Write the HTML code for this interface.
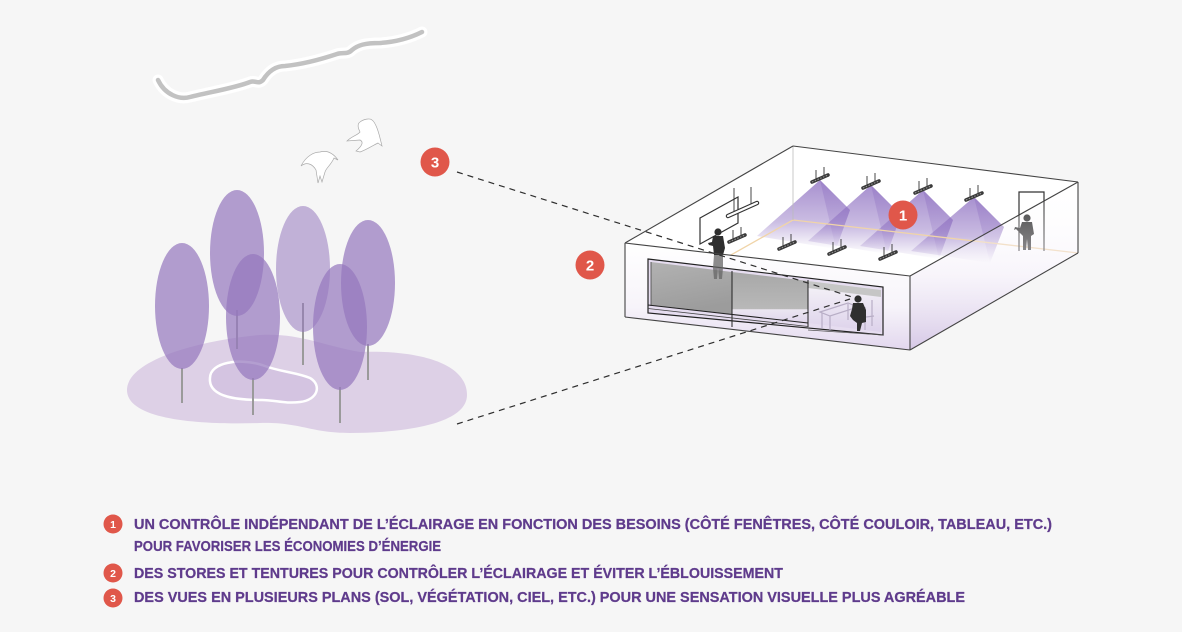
<!DOCTYPE html>
<html><head><meta charset="utf-8"><style>
html,body{margin:0;padding:0;background:#f6f6f6;}
svg{display:block;}
</style></head><body>
<svg width="1182" height="632" viewBox="0 0 1182 632" xmlns="http://www.w3.org/2000/svg">
<defs>
<linearGradient id="cone" x1="0" y1="0" x2="0" y2="1">
<stop offset="0" stop-color="#8a6bbf" stop-opacity="0.75"/>
<stop offset="0.6" stop-color="#8a6bbf" stop-opacity="0.45"/>
<stop offset="1" stop-color="#8a6bbf" stop-opacity="0"/>
</linearGradient>
<linearGradient id="wallf" x1="0" y1="0" x2="0" y2="1">
<stop offset="0" stop-color="#ffffff"/>
<stop offset="0.6" stop-color="#f7f4fa"/>
<stop offset="1" stop-color="#e2d7ee"/>
</linearGradient>
<linearGradient id="wallr" x1="0" y1="0" x2="0" y2="1">
<stop offset="0" stop-color="#ffffff" stop-opacity="0"/>
<stop offset="0.55" stop-color="#f3eef8" stop-opacity="0.6"/>
<stop offset="1" stop-color="#d6c8e6" stop-opacity="1"/>
</linearGradient>
<linearGradient id="gray1" x1="0" y1="0" x2="0.3" y2="1">
<stop offset="0" stop-color="#b2b2b2"/>
<stop offset="1" stop-color="#9c9c9c"/>
</linearGradient>
<linearGradient id="gray2" x1="0" y1="0" x2="0" y2="1">
<stop offset="0" stop-color="#a8a8a8"/>
<stop offset="0.72" stop-color="#b8b8b8"/>
<stop offset="0.74" stop-color="#ebe6f1"/>
<stop offset="1" stop-color="#e0d6ec"/>
</linearGradient>
<linearGradient id="pane3" x1="0" y1="0" x2="0" y2="1">
<stop offset="0" stop-color="#f6f4f8"/>
<stop offset="1" stop-color="#ddd2eb"/>
</linearGradient>
</defs>

<!-- cloud -->
<path d="M158,80 C165,95 180,100 190,97 C210,92 235,88 250,82 C256,80 258,85 263,80 C268,72 275,66 285,66 C305,64 325,58 337,54 C343,52 347,55 352,50 C358,45 365,43 380,43 C395,42 410,38 422,32" fill="none" stroke="#ffffff" stroke-width="11" stroke-linecap="round" stroke-linejoin="round"/>
<path d="M158,80 C165,95 180,100 190,97 C210,92 235,88 250,82 C256,80 258,85 263,80 C268,72 275,66 285,66 C305,64 325,58 337,54 C343,52 347,55 352,50 C358,45 365,43 380,43 C395,42 410,38 422,32" fill="none" stroke="#c2c2c2" stroke-width="4.5" stroke-linecap="round" stroke-linejoin="round"/>

<!-- birds -->
<path d="M301,166 C306,156 314,152 320,152 C327,150 333,153 338,160 L334,158 C331,165 326,168 325,172 L322,182 L320,176 L318,183 L316,170 C312,163 306,162 301,166 Z" fill="#ffffff" stroke="#aaaaaa" stroke-width="0.7"/>
<path d="M347,141 C352,136 358,135 360,132 C358,128 357,124 360,122 C364,119 370,118 372,120 C375,122 378,130 380,138 L382,146 L378,143 C372,146 366,150 360,152 L356,151 C362,146 364,142 360,140 Z" fill="#ffffff" stroke="#aaaaaa" stroke-width="0.7"/>

<!-- ground -->
<path d="M127,390 C127,360 200,340 260,335 C300,333 320,345 360,352 C410,350 467,360 467,395 C467,425 400,433 350,433 C310,433 300,422 260,423 C200,425 127,420 127,390 Z" fill="#ddd0e6"/>
<path d="M210,378 C210,362 240,358 262,365 C280,372 295,372 310,378 C322,385 318,400 300,402 C285,404 275,400 262,400 C240,400 208,398 210,378 Z" fill="#d4c4e1" stroke="#ffffff" stroke-width="2.5"/>

<!-- trunks -->
<g stroke="#9a9a9a" stroke-width="2">
<line x1="182" y1="368" x2="182" y2="403"/>
<line x1="237" y1="310" x2="237" y2="349"/>
<line x1="253" y1="378" x2="253" y2="415"/>
<line x1="303" y1="303" x2="303" y2="365"/>
<line x1="368" y1="344" x2="368" y2="380"/>
<line x1="340" y1="387" x2="340" y2="423"/>
</g>
<!-- trees -->
<g fill="#9678be">
<ellipse cx="182" cy="306" rx="27" ry="63" fill-opacity="0.72"/>
<ellipse cx="237" cy="253" rx="27" ry="63" fill-opacity="0.72"/>
<ellipse cx="303" cy="269" rx="27" ry="63" fill-opacity="0.55"/>
<ellipse cx="368" cy="283" rx="27" ry="63" fill-opacity="0.72"/>
<ellipse cx="253" cy="317" rx="27" ry="63" fill-opacity="0.72"/>
<ellipse cx="340" cy="327" rx="27" ry="63" fill-opacity="0.72"/>
</g>

<!-- building base silhouette -->
<polygon points="625,243 793,146 1078,182 1078,253 910,350 625,317" fill="#ffffff"/>

<!-- light cones -->
<g>
<polygon points="820,180 757,236 836,249 850,210" fill="url(#cone)"/>
<polygon points="820,180 836,249 850,210" fill="url(#cone)" opacity="0.5"/>
<polygon points="871,185 808,241 887,254 901,215" fill="url(#cone)"/>
<polygon points="871,185 887,254 901,215" fill="url(#cone)" opacity="0.5"/>
<polygon points="923,190 860,246 939,259 953,220" fill="url(#cone)"/>
<polygon points="923,190 939,259 953,220" fill="url(#cone)" opacity="0.5"/>
<polygon points="974,197 911,251 990,263 1004,227" fill="url(#cone)"/>
<polygon points="974,197 990,263 1004,227" fill="url(#cone)" opacity="0.5"/>
</g>

<!-- floor lines -->
<line x1="793" y1="220" x2="1078" y2="253" stroke="#f0d4a8" stroke-width="1.3"/>
<line x1="793" y1="220" x2="628" y2="313" stroke="#f0d4a8" stroke-width="1.3"/>
<line x1="793" y1="146" x2="793" y2="220" stroke="#bbbbbb" stroke-width="0.8"/>

<!-- door -->
<polyline points="1019,251 1019,192 1044,192 1044,251" fill="none" stroke="#333" stroke-width="1.2"/>

<!-- board -->
<polygon points="700,218 738,197 738,223 700,244" fill="#ffffff" stroke="#333" stroke-width="1.2"/>
<!-- board light -->
<line x1="734" y1="188" x2="734" y2="213" stroke="#333" stroke-width="0.9"/>
<line x1="751" y1="187" x2="751" y2="204" stroke="#333" stroke-width="0.9"/>
<line x1="728" y1="216" x2="757" y2="203" stroke="#333" stroke-width="4.5" stroke-linecap="round"/>
<line x1="728" y1="216" x2="757" y2="203" stroke="#ffffff" stroke-width="2.2" stroke-linecap="round"/>

<!-- fixtures -->
<g stroke="#333" stroke-width="0.9">
<line x1="816" y1="180" x2="816" y2="170"/><line x1="824" y1="177" x2="824" y2="167"/>
<line x1="867" y1="186" x2="867" y2="176"/><line x1="875" y1="183" x2="875" y2="173"/>
<line x1="919" y1="191" x2="919" y2="181"/><line x1="927" y1="188" x2="927" y2="178"/>
<line x1="970" y1="198" x2="970" y2="188"/><line x1="978" y1="195" x2="978" y2="185"/>
<line x1="733" y1="240" x2="733" y2="230"/><line x1="741" y1="237" x2="741" y2="227"/>
<line x1="783" y1="247" x2="783" y2="237"/><line x1="791" y1="244" x2="791" y2="234"/>
<line x1="833" y1="252" x2="833" y2="242"/><line x1="841" y1="249" x2="841" y2="239"/>
<line x1="884" y1="257" x2="884" y2="247"/><line x1="892" y1="254" x2="892" y2="244"/>
</g>
<g stroke="#3a3a3a" stroke-width="3.5" stroke-linecap="round">
<line x1="812" y1="182" x2="828" y2="175"/>
<line x1="863" y1="188" x2="879" y2="181"/>
<line x1="915" y1="193" x2="931" y2="186"/>
<line x1="966" y1="200" x2="982" y2="193"/>
<line x1="729" y1="242" x2="745" y2="235"/>
<line x1="779" y1="249" x2="795" y2="242"/>
<line x1="829" y1="254" x2="845" y2="247"/>
<line x1="880" y1="259" x2="896" y2="252"/>
</g>
<g stroke="#999" stroke-width="1" stroke-dasharray="1.5 1.5">
<line x1="812" y1="182" x2="828" y2="175"/>
<line x1="863" y1="188" x2="879" y2="181"/>
<line x1="915" y1="193" x2="931" y2="186"/>
<line x1="966" y1="200" x2="982" y2="193"/>
<line x1="729" y1="242" x2="745" y2="235"/>
<line x1="779" y1="249" x2="795" y2="242"/>
<line x1="829" y1="254" x2="845" y2="247"/>
<line x1="880" y1="259" x2="896" y2="252"/>
</g>

<!-- door person -->
<g fill="#2f2f2f">
<circle cx="1027" cy="218" r="3.6"/>
<path d="M1022,222 L1032,222 L1034,234 L1031,236 L1031,250 L1028,250 L1027,239 L1026,250 L1023,250 L1023,236 L1021,234 L1016,229 L1014,230 L1015,227 L1020,228 Z"/>
</g>

<!-- right face overlay -->
<polygon points="910,276 1078,182 1078,253 910,350" fill="url(#wallr)"/>

<!-- front wall -->
<polygon points="625,243 910,276 910,350 625,317" fill="url(#wallf)"/>

<!-- window -->
<polygon points="648,259 883,287 883,335 648,313" fill="#e6ddf0" stroke="#222" stroke-width="1.2"/>
<polygon points="651,262 732,272 732,314 651,305" fill="url(#gray1)"/>
<polygon points="732,272 808,281 808,323 732,314" fill="url(#gray2)"/>
<polygon points="808,281 881,290 881,332 808,323" fill="url(#pane3)"/>
<polygon points="808,281 881,290 881,297 808,288" fill="#c6c6c6"/>
<line x1="732" y1="271" x2="732" y2="327" stroke="#222" stroke-width="1"/>
<line x1="808" y1="280" x2="808" y2="327" stroke="#222" stroke-width="1"/>
<line x1="651" y1="262" x2="651" y2="306" stroke="#444" stroke-width="0.8"/>
<line x1="648" y1="305" x2="808" y2="323" stroke="#222" stroke-width="1"/>
<line x1="648" y1="308.5" x2="808" y2="326.5" stroke="#444" stroke-width="0.8"/>
<line x1="808" y1="330" x2="883" y2="335" stroke="#555" stroke-width="0.8"/>

<!-- table & chair (light) -->
<g fill="none" stroke="#b8aec6" stroke-width="1.2">
<polygon points="820,312 848,303 858,307 830,316"/>
<line x1="822" y1="313" x2="822" y2="328"/>
<line x1="830" y1="316" x2="830" y2="330"/>
<line x1="848" y1="304" x2="848" y2="320"/>
<line x1="865" y1="307" x2="865" y2="330"/>
<line x1="872" y1="300" x2="872" y2="326"/>
<line x1="858" y1="318" x2="874" y2="316"/>
</g>

<!-- teacher -->
<g fill="#2f2f2f">
<circle cx="718" cy="232" r="3.6"/>
<path d="M713,236 L723,236 L725,248 L723,255 L714,255 L713,246 L709,245 L708,243 L712,242 Z"/>
</g>
<path d="M714,255 L723,255 L723,268 L722,279 L719,279 L718,268 L717,279 L714,279 L713,268 Z" fill="#666" opacity="0.75"/>

<!-- seated person -->
<g fill="#2f2f2f">
<circle cx="858" cy="299" r="3.6"/>
<path d="M853,303 L863,303 L866,310 L866,322 L862,323 L860,331 L857,331 L857,323 L853,320 L850,316 L852,309 Z"/>
</g>

<!-- building edges -->
<g fill="none" stroke="#444" stroke-width="1.1">
<line x1="625" y1="243" x2="793" y2="146"/>
<line x1="793" y1="146" x2="1078" y2="182"/>
<line x1="1078" y1="182" x2="1078" y2="253"/>
<line x1="1078" y1="182" x2="910" y2="276"/>
<line x1="625" y1="243" x2="910" y2="276"/>
<line x1="910" y1="276" x2="910" y2="350"/>
<line x1="625" y1="243" x2="625" y2="317"/>
<line x1="625" y1="317" x2="910" y2="350"/>
<line x1="910" y1="350" x2="1078" y2="253"/>
</g>

<!-- dashed sight lines -->
<g stroke="#2e2e2e" stroke-width="1.2" stroke-dasharray="6 5" fill="none">
<line x1="457" y1="172" x2="852" y2="297"/>
<line x1="457" y1="424" x2="850" y2="299"/>
</g>

<!-- badges -->
<g font-family="Liberation Sans, sans-serif" font-weight="bold" text-anchor="middle">
<circle cx="435" cy="162" r="14.5" fill="#e0574a"/>
<text x="435" y="167.5" font-size="15" fill="#ffffff">3</text>
<circle cx="590" cy="265" r="14.5" fill="#e0574a"/>
<text x="590" y="270.5" font-size="15" fill="#ffffff">2</text>
<circle cx="903" cy="215" r="14.5" fill="#e0574a"/>
<text x="903" y="220.5" font-size="15" fill="#ffffff">1</text>

<circle cx="113" cy="524" r="9.5" fill="#e0574a"/>
<text x="113" y="528" font-size="10.5" fill="#ffffff">1</text>
<circle cx="113" cy="573" r="9.5" fill="#e0574a"/>
<text x="113" y="577" font-size="10.5" fill="#ffffff">2</text>
<circle cx="113" cy="598" r="9.5" fill="#e0574a"/>
<text x="113" y="602" font-size="10.5" fill="#ffffff">3</text>
</g>

<!-- legend text -->
<g font-family="Liberation Sans, sans-serif" font-weight="bold" font-size="14.5" fill="#5f3b8c" stroke="#5f3b8c" stroke-width="0.25">
<text x="134" y="529" textLength="918" lengthAdjust="spacingAndGlyphs">UN CONTRÔLE INDÉPENDANT DE L’ÉCLAIRAGE EN FONCTION DES BESOINS (CÔTÉ FENÊTRES, CÔTÉ COULOIR, TABLEAU, ETC.)</text>
<text transform="translate(134,551) scale(0.911,1)" x="0" y="0">POUR FAVORISER LES ÉCONOMIES D’ÉNERGIE</text>
<text x="134" y="578" textLength="649" lengthAdjust="spacingAndGlyphs">DES STORES ET TENTURES POUR CONTRÔLER L’ÉCLAIRAGE ET ÉVITER L’ÉBLOUISSEMENT</text>
<text x="134" y="602" textLength="831" lengthAdjust="spacingAndGlyphs">DES VUES EN PLUSIEURS PLANS (SOL, VÉGÉTATION, CIEL, ETC.) POUR UNE SENSATION VISUELLE PLUS AGRÉABLE</text>
</g>
</svg>
</body></html>
